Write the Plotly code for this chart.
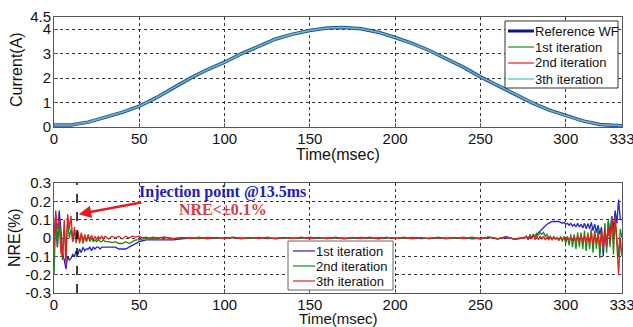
import plotly.graph_objects as go

# ---------------- data ----------------
# Top plot: current waveform (A) vs time (msec)
t_cur = [0, 10, 20, 30, 40, 50, 60, 70, 80, 90, 100, 110, 120, 130, 140, 150, 160, 166, 170,
         180, 190, 200, 210, 220, 230, 240, 250, 260, 270, 280, 290, 300, 310, 320, 330, 333]
i_ref = [0.08, 0.08, 0.2, 0.4, 0.6, 0.85, 1.2, 1.6, 2.0, 2.35, 2.65, 3.0, 3.3, 3.6, 3.8, 3.95, 4.05, 4.08, 4.07,
         4.02, 3.88, 3.66, 3.42, 3.13, 2.8, 2.45, 2.05, 1.7, 1.35, 1.0, 0.7, 0.47, 0.25, 0.1, 0.05, 0.05]
i_it1 = list(i_ref)
i_it2 = list(i_ref)
i_it3 = list(i_ref)

# Bottom plot: NRE (%) vs time (msec)
t_nre = (list(range(0, 31)) + list(range(32, 61, 2)) + list(range(65, 276, 5))
         + list(range(276, 334)))

nre_it1 = [
    # 0..30
    0.0, 0.12, -0.05, 0.15, 0.05, -0.08, -0.12, -0.17, -0.1, -0.12, -0.11, -0.09, -0.1, -0.07, -0.09, -0.06,
    -0.08, -0.05, -0.07, -0.06, -0.06, -0.05, -0.07, -0.05, -0.06, -0.05, -0.05, -0.06, -0.05, -0.05, -0.05,
    # 32..60
    -0.05, -0.05, -0.05, -0.06, -0.06, -0.06, -0.05, -0.04, -0.03, -0.02, -0.015, -0.01, -0.01, -0.01, -0.01,
    # 65..275
    -0.01, -0.01, -0.005, 0.0, -0.003, 0.002, -0.002, 0.0, 0.003, -0.002, 0.0, 0.002, -0.003, 0.0, 0.002,
    -0.002, 0.0, 0.003, -0.002, 0.0, 0.002, -0.003, 0.0, 0.002, -0.002, 0.0, 0.003, -0.002, 0.0, 0.002,
    -0.003, 0.0, 0.002, -0.002, 0.0, 0.003, -0.004, 0.0, 0.003, -0.004, 0.002, -0.005, 0.0,
    # 276..333
    0.0, 0.005, -0.005, 0.01, 0.0, 0.01, 0.01, 0.02, 0.03, 0.04, 0.05, 0.06, 0.07, 0.075, 0.08, 0.085,
    0.09, 0.09, 0.09, 0.09, 0.09, 0.085, 0.08, 0.085, 0.075, 0.08, 0.07, 0.08, 0.065, 0.075, 0.06, 0.08,
    0.06, 0.075, 0.055, 0.08, 0.05, 0.08, 0.05, 0.085, 0.04, 0.075, 0.03, 0.07, 0.02, 0.06, -0.1, 0.05,
    -0.05, 0.09, 0.02, 0.12, 0.05, 0.15, 0.08, 0.21, 0.1, 0.1,
]
nre_it2 = [
    # 0..30
    -0.2, 0.1, -0.05, 0.08, 0.0, -0.12, 0.05, -0.06, 0.1, 0.0, 0.05, -0.02, 0.04, -0.03, 0.03, -0.02,
    0.02, -0.03, 0.01, -0.02, 0.01, -0.02, 0.0, -0.02, -0.01, -0.02, -0.01, -0.02, -0.02, -0.01, -0.02,
    # 32..60
    -0.02, -0.025, -0.02, -0.03, -0.03, -0.02, -0.03, -0.02, -0.01, -0.01, -0.005, 0.0, 0.0, -0.005, 0.0,
    # 65..275
    0.003, -0.003, 0.002, 0.0, -0.002, 0.003, 0.0, -0.003, 0.002, 0.0, -0.002, 0.003, 0.0, -0.003, 0.002,
    0.0, -0.002, 0.003, 0.0, -0.003, 0.002, 0.0, -0.002, 0.003, 0.0, -0.003, 0.002, 0.0, -0.002, 0.003,
    0.0, -0.003, 0.002, 0.0, -0.002, 0.003, 0.0, -0.004, 0.004, -0.003, 0.005, -0.005, 0.0,
    # 276..333
    0.0, 0.01, -0.01, 0.02, 0.0, 0.02, 0.01, 0.025, 0.015, 0.03, 0.02, 0.03, 0.01, 0.02, 0.0, 0.01,
    -0.01, 0.01, -0.01, 0.005, -0.015, 0.01, -0.02, 0.01, -0.03, 0.01, -0.04, 0.02, -0.05, 0.02, -0.06, 0.03,
    -0.05, 0.03, -0.06, 0.04, -0.07, 0.03, -0.06, 0.05, -0.08, 0.04, -0.06, 0.05, -0.11, 0.04, -0.06, 0.08,
    -0.08, 0.1, -0.05, 0.12, -0.09, 0.1, 0.0, -0.1, 0.05, 0.0,
]
nre_it3 = [
    # 0..30
    -0.05, 0.15, 0.05, 0.1, -0.08, -0.1, 0.1, -0.15, 0.13, 0.05, 0.12, -0.02, 0.06, -0.02, 0.04, -0.03,
    0.03, -0.02, 0.02, -0.02, 0.02, -0.01, 0.015, -0.01, 0.01, -0.01, 0.01, -0.005, 0.01, -0.005, 0.01,
    # 32..60
    -0.005, 0.01, 0.0, 0.01, -0.005, 0.01, 0.0, 0.01, 0.005, 0.01, 0.0, 0.005, 0.0, 0.005, 0.0,
    # 65..275
    0.004, -0.004, 0.003, -0.003, 0.004, -0.004, 0.003, -0.003, 0.004, -0.004, 0.003, -0.003, 0.004, -0.004,
    0.003, -0.003, 0.004, -0.004, 0.003, -0.003, 0.004, -0.004, 0.003, -0.003, 0.004, -0.004, 0.003, -0.003,
    0.004, -0.004, 0.003, -0.003, 0.004, -0.004, 0.003, -0.003, 0.005, -0.005, 0.006, -0.006, 0.008, -0.008, 0.0,
    # 276..333
    0.0, 0.01, -0.01, 0.015, -0.005, 0.02, -0.01, 0.015, -0.01, 0.01, -0.005, 0.01, -0.01, 0.005, -0.01, 0.005,
    -0.01, 0.005, -0.005, 0.0, -0.01, 0.0, -0.005, 0.0, -0.01, 0.005, -0.01, 0.0, -0.015, 0.01, -0.02, 0.01,
    -0.015, 0.02, -0.03, 0.01, -0.02, 0.02, -0.03, 0.03, -0.04, 0.03, -0.03, 0.02, -0.05, 0.04, -0.06, 0.05,
    -0.04, 0.06, -0.03, 0.1, 0.0, 0.12, -0.05, -0.2, 0.0, -0.1,
]

x_ticks = [0, 50, 100, 150, 200, 250, 300, 333]
cur_ticks = [0, 1, 2, 3, 4, 4.5]
nre_ticks = [-0.3, -0.2, -0.1, 0, 0.1, 0.2, 0.3]
inj_time = 13.5

top_names = ["Reference WF", "1st iteration", "2nd iteration", "3th iteration"]
bot_names = ["1st iteration", "2nd iteration", "3th iteration"]

BLUE = "#2222cc"
GREEN = "#1a8a1a"
RED = "#e02020"
CYAN = "#5fd0d8"
DKBLUE = "#101090"
FONT = "Liberation Sans, Arial, sans-serif"
SERIF = "Liberation Serif, Times New Roman, serif"

W, H = 633, 327
def px(x):
    return x / W
def py(y):
    return 1 - y / H

fig = go.Figure()

# top plot
top_styles = [dict(color="#1f4fa8", width=3.5), dict(color=GREEN, width=1),
              dict(color=RED, width=1), dict(color=CYAN, width=1.6)]
top_series = [i_ref, i_it1, i_it2, i_it3]
for name, ys, st in zip(top_names, top_series, top_styles):
    fig.add_trace(go.Scatter(x=t_cur, y=ys, mode="lines", name=name, line=st, opacity=0.85 if st["color"] == CYAN else 1,
                             xaxis="x", yaxis="y", showlegend=False))

# bottom plot
bot_colors = [BLUE, GREEN, RED]
for name, ys, c in zip(bot_names, [nre_it1, nre_it2, nre_it3], bot_colors):
    fig.add_trace(go.Scatter(x=t_nre, y=ys, mode="lines", name=name, line=dict(color=c, width=1.3),
                             xaxis="x2", yaxis="y2", showlegend=False))

axis_common = dict(showline=True, mirror=True, linecolor="#555555", linewidth=1,
                   ticks="inside", ticklen=4, tickcolor="#555555", automargin=False,
                   ticklabeloverflow="allow",
                   showgrid=True, gridcolor="#333333", griddash="dot", gridwidth=1,
                   zeroline=False, tickfont=dict(family=FONT, size=15, color="#111111"))

XD = [px(54), px(622)]
fig.update_layout(
    width=W, height=H,
    margin=dict(l=0, r=0, t=0, b=0, pad=0),
    paper_bgcolor="white", plot_bgcolor="white",
    font=dict(family=FONT, color="#111111"),
    showlegend=False,
    xaxis=dict(domain=XD, anchor="y", range=[0, 333], tickvals=x_ticks, ticklabelstandoff=-2, **axis_common),
    yaxis=dict(domain=[py(127), py(17)], anchor="x", range=[0, 4.5], tickvals=cur_ticks,
               ticktext=["0", "1", "2", "3", "4", "4.5"], ticklabelstandoff=-1, **axis_common),
    xaxis2=dict(domain=XD, anchor="y2", range=[0, 333], tickvals=x_ticks, ticklabelstandoff=-2, **axis_common),
    yaxis2=dict(domain=[py(293), py(183)], anchor="x2", range=[-0.3, 0.3], tickvals=nre_ticks,
                ticktext=["-0.3", "-0.2", "-0.1", "0", "0.1", "0.2", "0.3"], ticklabelstandoff=-1, **axis_common),
)

# axis titles
fig.add_annotation(xref="paper", yref="paper", x=px(338), y=py(154), text="Time(msec)", showarrow=False,
                   font=dict(family=FONT, size=16), xanchor="center", yanchor="middle")
fig.add_annotation(xref="paper", yref="paper", x=px(338), y=py(318), text="Time(msec)", showarrow=False,
                   font=dict(family=FONT, size=15), xanchor="center", yanchor="middle")
fig.add_annotation(xref="paper", yref="paper", x=px(17), y=py(70), text="Current(A)", showarrow=False,
                   textangle=-90, font=dict(family=FONT, size=16), xanchor="center", yanchor="middle")
fig.add_annotation(xref="paper", yref="paper", x=px(14), y=py(238), text="NRE(%)", showarrow=False,
                   textangle=-90, font=dict(family=FONT, size=16), xanchor="center", yanchor="middle")

# dashed injection line
fig.add_shape(type="line", xref="x2", yref="y2 domain", x0=inj_time, x1=inj_time, y0=0, y1=1,
              line=dict(color="black", width=1.5, dash="dash"))

# arrow + annotation texts
fig.add_annotation(xref="x2", yref="y2", x=14.5, y=0.13, axref="x2", ayref="y2", ax=52, ay=0.195,
                   text="", showarrow=True, arrowhead=2, arrowsize=1, arrowwidth=2.5, arrowcolor="#e02020")
fig.add_annotation(xref="x2", yref="y2", x=99, y=0.25, text="<b>Injection point @13.5ms</b>", showarrow=False,
                   font=dict(family=SERIF, size=16, color="#2020c0"))
fig.add_annotation(xref="x2", yref="y2", x=99, y=0.155, text="<b>NRE<±0.1%</b>", showarrow=False,
                   font=dict(family=SERIF, size=16, color="#d04040"))

# legends (drawn as boxes with sample lines and text labels)
def draw_legend(x0, y0, x1, y1, rows, names, styles, line_x0, line_x1, text_x, border):
    fig.add_shape(type="rect", xref="paper", yref="paper", x0=px(x0), x1=px(x1), y0=py(y1), y1=py(y0),
                  line=dict(color=border, width=1), fillcolor="white", layer="above")
    for ry, name, st in zip(rows, names, styles):
        fig.add_shape(type="line", xref="paper", yref="paper", x0=px(line_x0), x1=px(line_x1),
                      y0=py(ry), y1=py(ry), line=st, layer="above")
        fig.add_annotation(xref="paper", yref="paper", x=px(text_x), y=py(ry), text=name, showarrow=False,
                           xanchor="left", yanchor="middle", font=dict(family=FONT, size=13, color="#111111"))

draw_legend(505, 21, 618, 88, [31, 47, 63, 79], top_names,
            [dict(color=DKBLUE, width=3), dict(color=GREEN, width=1.2),
             dict(color=RED, width=1.2), dict(color=CYAN, width=1.5)],
            508, 534, 533, "#333333")
draw_legend(288, 241, 393, 290, [251, 266, 281], bot_names,
            [dict(color=BLUE, width=1.2), dict(color=GREEN, width=1.2), dict(color=RED, width=1.2)],
            293, 315, 314, "#666666")

fig.write_html("out.html", config={"displayModeBar": False},
               post_script="document.body.style.margin='0';document.body.style.overflow='hidden';")
